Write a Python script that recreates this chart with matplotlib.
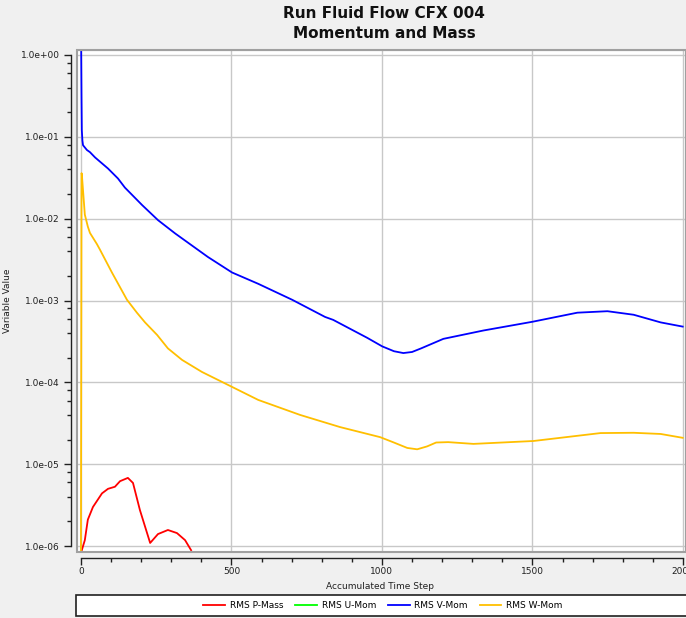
import matplotlib
matplotlib.use("Agg")
import matplotlib.pyplot as plt
from matplotlib.patches import Rectangle
from matplotlib.ticker import LogLocator, FixedLocator, NullFormatter, FuncFormatter

# ---- data ----
p_mass_steps = [3, 13, 23, 40, 70, 90, 113, 130, 156, 173, 196, 230, 256, 289, 319, 346, 366]
p_mass_vals = [8.9e-7, 1.18e-6, 2.1e-6, 3.0e-6, 4.4e-6, 5.0e-6, 5.3e-6, 6.2e-6, 6.8e-6, 5.9e-6,
               2.75e-6, 1.09e-6, 1.4e-6, 1.57e-6, 1.44e-6, 1.18e-6, 8.9e-7]

u_mom_steps = []
u_mom_vals = []

v_mom_steps = [0, 1, 2, 3, 5, 7, 20, 30, 47, 90, 123, 146, 203, 256, 313, 422, 502, 589, 702,
               811, 838, 951, 1001, 1040, 1071, 1100, 1130, 1204, 1337, 1500, 1649, 1749, 1836,
               1926, 1999]
v_mom_vals = [5.0, 1.0, 0.3, 0.12, 0.09, 0.079, 0.069, 0.065, 0.056, 0.041, 0.031, 0.024, 0.0147,
              0.0096, 0.0066, 0.0034, 0.0022, 0.00160, 0.00102, 6.3e-4, 5.8e-4, 3.5e-4, 2.75e-4,
              2.4e-4, 2.28e-4, 2.35e-4, 2.6e-4, 3.4e-4, 4.3e-4, 5.5e-4, 7.1e-4, 7.4e-4, 6.7e-4,
              5.4e-4, 4.8e-4]

w_mom_steps = [0, 2, 3, 13, 23, 30, 53, 63, 103, 153, 186, 213, 253, 289, 336, 402, 502, 589,
               728, 861, 994, 1038, 1084, 1117, 1150, 1180, 1220, 1304, 1503, 1726, 1836, 1926,
               1999]
w_mom_vals = [5e-7, 0.036, 0.035, 0.0112, 0.0080, 0.0067, 0.0049, 0.0042, 0.0022, 0.00102, 7.1e-4,
              5.4e-4, 3.8e-4, 2.6e-4, 1.88e-4, 1.34e-4, 8.8e-5, 6.1e-5, 4.0e-5, 2.84e-5, 2.14e-5,
              1.85e-5, 1.58e-5, 1.52e-5, 1.65e-5, 1.84e-5, 1.86e-5, 1.77e-5, 1.92e-5, 2.4e-5,
              2.42e-5, 2.34e-5, 2.1e-5]

series_labels = ["RMS P-Mass", "RMS U-Mom", "RMS V-Mom", "RMS W-Mom"]
series_colors = ["#ff0000", "#00ff00", "#0000ff", "#ffbf00"]
x_ticks = [0, 500, 1000, 1500, 2000]
title_lines = ["Run Fluid Flow CFX 004", "Momentum and Mass"]

W, H = 686, 618
fig = plt.figure(figsize=(W / 100, H / 100), dpi=100, facecolor="#f0f0f0")

left_px, right_px, top_px, bottom_px = 77, 686, 50, 552
ax = fig.add_axes([left_px / W, 1 - bottom_px / H, (right_px - left_px) / W, (bottom_px - top_px) / H])
ax.set_facecolor("white")

all_steps = [p_mass_steps, u_mom_steps, v_mom_steps, w_mom_steps]
all_vals = [p_mass_vals, u_mom_vals, v_mom_vals, w_mom_vals]
handles = []
for s, v, lab, c in zip(all_steps, all_vals, series_labels, series_colors):
    h, = ax.plot(s, v, color=c, lw=1.3, label=lab, solid_joinstyle="round")
    handles.append(h)

ax.set_yscale("log")
ax.set_xlim(-13, 2010)
ax.set_ylim(10 ** -6.073, 10 ** 0.061)

ax.xaxis.set_major_locator(FixedLocator(x_ticks))
ax.xaxis.set_minor_locator(FixedLocator([v for v in range(0, 2001, 100) if v % 500]))
ax.xaxis.set_minor_formatter(NullFormatter())
ax.yaxis.set_major_locator(LogLocator(base=10, numticks=20))
ax.yaxis.set_minor_locator(LogLocator(base=10, subs=(2, 4, 6, 8), numticks=20))
ax.yaxis.set_minor_formatter(NullFormatter())

def yfmt(v, pos):
    s = "%.1e" % v
    mant, exp = s.split("e")
    return "%se%s%02d" % (mant, exp[0], abs(int(exp)))

ax.yaxis.set_major_formatter(FuncFormatter(yfmt))

ax.grid(True, which="major", color="#c8c8c8", lw=1.0)
ax.set_axisbelow(True)

for side in ["top", "right"]:
    ax.spines[side].set_color("#a0a0a0")
ax.spines["left"].set_position(("outward", 4))
ax.spines["bottom"].set_position(("outward", 4))
ax.spines["left"].set_bounds(1e-6, 1.0)
ax.spines["bottom"].set_bounds(0, 2000)
for side in ["left", "bottom"]:
    ax.spines[side].set_color("#202020")
    ax.spines[side].set_linewidth(1.0)

# gray frame around plot area
ax.add_patch(Rectangle((0, 0), 1, 1, transform=ax.transAxes, fill=False,
                       edgecolor="#a0a0a0", lw=1.5, zorder=5, clip_on=False))

ax.tick_params(axis="both", which="major", direction="out", length=5, width=1.0,
               color="#202020", labelsize=6.5, labelcolor="#202020")
ax.tick_params(axis="both", which="minor", direction="out", length=3, width=1.0, color="#202020")
ax.tick_params(axis="x", pad=2)

ax.set_ylabel("Variable Value", fontsize=6.5, color="#202020", labelpad=6)
ax.set_xlabel("Accumulated Time Step", fontsize=6.5, color="#202020", labelpad=2)
ax.xaxis.set_label_coords((380 - left_px) / (right_px - left_px), -(582 - bottom_px) / (bottom_px - top_px))

fig.text(384 / W, 1 - 13 / H, title_lines[0], ha="center", va="center",
         fontsize=11, fontweight="bold", color="#111111")
fig.text(384 / W, 1 - 33 / H, title_lines[1], ha="center", va="center",
         fontsize=11, fontweight="bold", color="#111111")

# legend box
fig.patches.append(Rectangle((76 / W, 1 - 616 / H), (700 - 76) / W, (616 - 595) / H,
                             transform=fig.transFigure, facecolor="white", edgecolor="#202020",
                             lw=1.2, zorder=0, figure=fig))
fig.legend(handles=handles, labels=series_labels, loc="center",
           bbox_to_anchor=(383 / W, 1 - 606 / H), ncol=4, frameon=False,
           fontsize=6.5, handlelength=2.4, columnspacing=1.3, handletextpad=0.55)

fig.savefig("out.png", dpi=100, facecolor=fig.get_facecolor())
